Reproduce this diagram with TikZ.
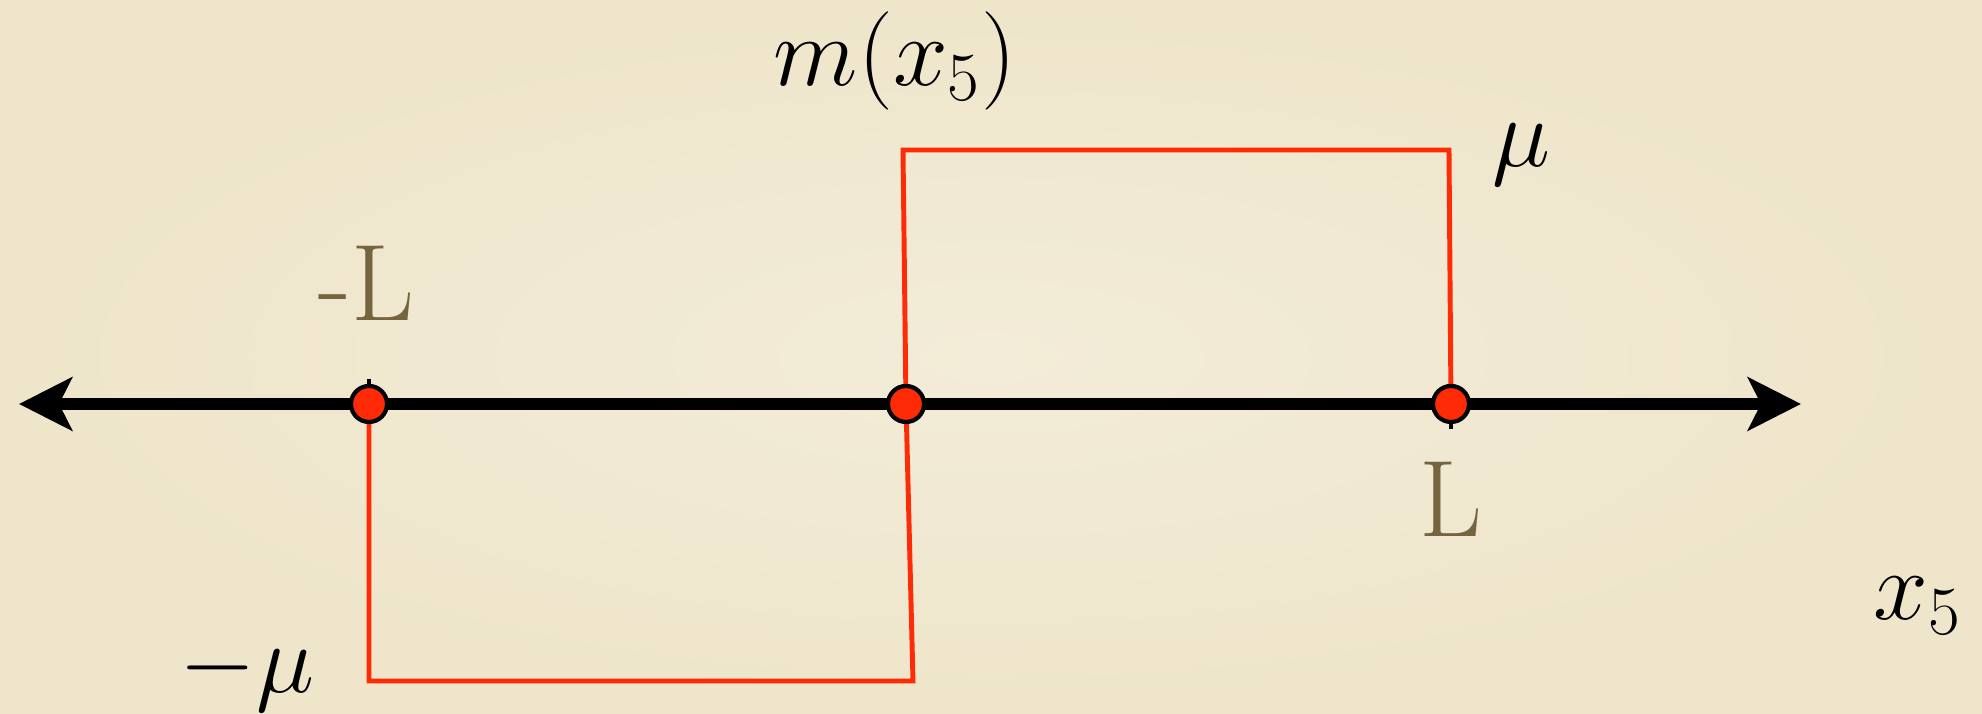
\documentclass[tikz,border=0pt]{standalone}
\usepackage{fix-cm}
\usepackage{tikz}
\usetikzlibrary{arrows.meta}
\definecolor{paper}{HTML}{EEE5CA}
\definecolor{paperlight}{HTML}{F3ECD8}
\definecolor{stepred}{HTML}{FF2B06}
\definecolor{labelbrown}{HTML}{74653F}
\tikzset{
  axisline/.style={line width=3.6pt,{Stealth[length=5.3mm,width=5.3mm,inset=1.3mm]}-{Stealth[length=5.3mm,width=5.3mm,inset=1.3mm]}},
  stepline/.style={stepred,line width=1.4pt},
  tickmark/.style={line width=1.2pt},
  stepdot/.style={circle,draw=black,fill=stepred,line width=1.2pt,inner sep=0pt,minimum size=3.6mm},
  endlabel/.style={labelbrown,anchor=base,font=\fontsize{31}{37}\selectfont},
  mathlabel/.style={anchor=base}
}

\begin{document}
\begin{tikzpicture}[font=\fontsize{28}{34}\selectfont]
\useasboundingbox (0,0) rectangle (19.82,7.14);
\shade[inner color=paperlight,outer color=paper] (0,0) rectangle (19.82,7.14);
% points on the axis
\coordinate (cmL) at (3.69,3.10);
\coordinate (c0) at (9.06,3.10);
\coordinate (cL) at (14.51,3.10);
\coordinate (aleft) at (0.19,3.10);
\coordinate (aright) at (18.01,3.10);
% corners of the step
\coordinate (top0) at (9.03,5.64);
\coordinate (topL) at (14.49,5.64);
\coordinate (botmL) at (3.69,0.33);
\coordinate (bot0) at (9.13,0.33);
\foreach \pos in {cmL,c0,cL}
  \draw[tickmark] ([yshift=-2.5mm]\pos) -- ([yshift=2.5mm]\pos);
\draw[axisline] (aleft) -- (aright);
\draw[stepline] (c0) -- (top0) -- (topL) -- (cL);
\draw[stepline] (cmL) -- (botmL) -- (bot0) -- (c0);
\node[stepdot] (pmL) at (cmL) {};
\node[stepdot] (p0) at (c0) {};
\node[stepdot] (pL) at (cL) {};
% labels
\node[endlabel] (lmL) at (3.66,3.93) {-L};
\node[endlabel] (lL) at (14.51,1.77) {L};
\node[mathlabel] (lm) at (8.95,6.28) {$m(x_5)$};
\node[mathlabel] (lmu) at (15.21,5.47) {$\mu$};
\node[mathlabel] (lx) at (19.18,0.94) {$x_5$};
\node[mathlabel] (lmmu) at (2.47,0.21) {$-\mu$};
\end{tikzpicture}
\end{document}
